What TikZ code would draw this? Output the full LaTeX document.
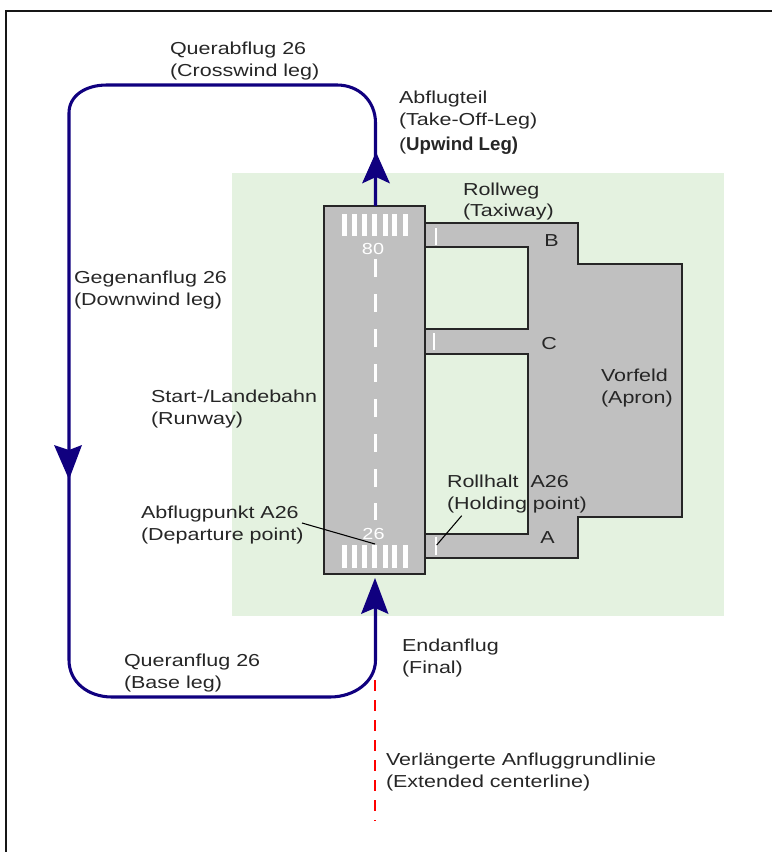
\documentclass[tikz,border=0pt]{standalone}
\usepackage{fontspec}
\setmainfont[FakeStretch=1.24]{Liberation Sans}
\newfontfamily\plainbold{Liberation Sans Bold}
\definecolor{fieldgreen}{HTML}{E4F2E0}
\definecolor{pavegray}{HTML}{C0C0C0}
\definecolor{circuitblue}{HTML}{10007F}
\definecolor{inkgray}{HTML}{262626}
\tikzset{
  x=0.75pt, y=-0.75pt,
  lbl/.style={anchor=north west, inner sep=0pt, outer sep=0pt, align=left, yshift=11.55pt, text=inkgray,
    font=\fontsize{13}{16.5}\selectfont},
  letter/.style={anchor=base west, inner sep=0pt, text=inkgray, font=\fontsize{13}{14}\selectfont},
  rwnum/.style={inner sep=0pt, text=white, font=\fontsize{12}{12}\selectfont},
  pave/.style={fill=pavegray, draw=inkgray, line width=1.3pt, line join=miter},
  circuit/.style={draw=circuitblue, line width=2.3pt},
  kite/.style={fill=circuitblue, draw=none},
  white mark/.style={draw=white, line width=3.6pt},
  hold mark/.style={draw=white, line width=1.1pt},
  leader/.style={draw=black, line width=0.8pt},
  extended/.style={draw=red, line width=0.9pt, dash pattern=on 8pt off 7pt},
}
\begin{document}
\begin{tikzpicture}
\useasboundingbox (0,0) rectangle (772,852);
% frame
\draw[inkgray!60!black, line width=1.5pt] (6,852) -- (6,11) -- (772,11);
% airfield
\fill[fieldgreen] (232,173) rectangle (724,616);
% taxiways and apron
\draw[pave] (425,223) -- (578,223) -- (578,264) -- (682,264) -- (682,517) -- (578,517) -- (578,558) -- (425,558)
  -- (425,534) -- (528,534) -- (528,354) -- (425,354) -- (425,329) -- (528,329) -- (528,247) -- (425,247) -- cycle;
\draw[hold mark] (436,228) -- (436,245);
\draw[hold mark] (434,333) -- (434,350);
\draw[hold mark] (436,537) -- (436,555);
% runway
\node[pave, rectangle, minimum width=75.75pt, minimum height=276pt, inner sep=0pt, outer sep=0pt, anchor=north west] (runway) at (324,206) {};
\foreach \s in {344.2,354.8,364.2,374.8,385.2,394.8,405.5}{
  \draw[white mark] (\s,214.5) -- (\s,236);
  \draw[white mark] (\s,545) -- (\s,567.5);
}
\foreach \d in {259,294,329,364,399,434,469}{
  \draw[white mark, line width=2.6pt] (375.5,\d) -- (375.5,\d+17.5);
}
\draw[white mark, line width=2.6pt] (375.5,503) -- (375.5,520);
\node[rwnum] (rwy80) at (373,248.5) {80};
\node[rwnum] (rwy26) at (373.5,534) {26};
% traffic circuit
\coordinate (upwind) at (375.5,123);
\coordinate (xwindR) at (337,85);
\coordinate (xwindL) at (107,85);
\coordinate (downT) at (69,113);
\coordinate (downB) at (69,660);
\coordinate (baseL) at (112,697);
\coordinate (baseR) at (330,697);
\coordinate (finalB) at (375.5,660);
\draw[circuit] (runway.north -| upwind) -- (upwind) .. controls (375.5,101) and (359,85) .. (xwindR) -- (xwindL)
  .. controls (85,85) and (69,96) .. (downT) -- (downB) .. controls (69,682) and (88,697) .. (baseL) -- (baseR)
  .. controls (354,697) and (375.5,682) .. (finalB) -- (375.5,600);
\fill[kite] (376,152) -- (390,183.5) -- (376,177) -- (362,183.5) -- cycle;
\fill[kite] (69,479.5) -- (54,445) -- (69,450) -- (82,445) -- cycle;
\fill[kite] (375,578) -- (388.5,614) -- (375,608) -- (361,614) -- cycle;
% extended centerline
\coordinate (extTop) at (375,680);
\coordinate (extEnd) at (375,821);
\draw[extended] (extTop) -- (extEnd);
% labels
\node[lbl] (crosswind) at (170,55) {\strut Querabflug 26\\(Crosswind leg)};
\node[lbl] (takeoff) at (399,104) {\strut Abflugteil\\(Take-Off-Leg)\\[2.2pt]({\plainbold\fontsize{14}{16.5}\selectfont Upwind Leg)}};
\node[lbl] (taxiway) at (463,195) {\strut Rollweg\\(Taxiway)};
\node[lbl] (downwind) at (74,283) {\strut Gegenanflug 26\\(Downwind leg)};
\node[lbl] (runwaylbl) at (151,402) {\strut Start-/Landebahn\\(Runway)};
\node[lbl] (apron) at (601,381) {\strut Vorfeld\\(Apron)};
\node[lbl] (holding) at (447,487) {\strut Rollhalt\ \ A26\\(Holding point)};
\node[lbl] (departure) at (141,518) {\strut Abflugpunkt A26\\(Departure point)};
\node[lbl] (finallbl) at (402,651) {\strut Endanflug\\(Final)};
\node[lbl] (base) at (124,666) {\strut Queranflug 26\\(Base leg)};
\node[lbl] (extlbl) at (386,765) {\strut Verlängerte Anfluggrundlinie\\(Extended centerline)};
\node[letter] (twB) at (544,246) {B};
\node[letter] (twC) at (541,349) {C};
\node[letter] (twA) at (540,543) {A};
% leaders
\coordinate (depPoint) at (375,544);
\coordinate (depStart) at (302,523);
\coordinate (holdPoint) at (436.7,545);
\coordinate (holdStart) at (461.7,515.7);
\draw[leader] (depStart) -- (depPoint);
\draw[leader] (holdStart) -- (holdPoint);
\end{tikzpicture}
\end{document}
